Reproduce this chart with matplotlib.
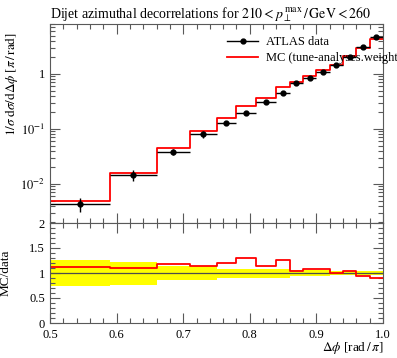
# Dijet azimuthal decorrelation plot, data vs MC with ratio panel

import numpy as np
import matplotlib
matplotlib.use('Agg')
import matplotlib.pyplot as plt
from matplotlib.lines import Line2D
from matplotlib.ticker import MultipleLocator, LogLocator, NullFormatter

plt.rcParams['font.family'] = ['Liberation Serif', 'DejaVu Serif']
plt.rcParams['mathtext.fontset'] = 'stix'
plt.rcParams['font.size'] = 9

# ------------------------------------------------------
# DATA
# ------------------------------------------------------

# bin edges in delta phi / pi
edges = [0.5, 0.59, 0.66, 0.71, 0.75, 0.78, 0.81, 0.84, 0.86, 0.88, 0.90, 0.92, 0.94, 0.96, 0.98, 1.0]
# ATLAS data values
data = [0.0043, 0.0144, 0.0387, 0.080, 0.130, 0.198, 0.314, 0.458, 0.676, 0.835, 1.10, 1.46, 2.06, 3.14, 4.77]
# relative data uncertainty
data_err = [0.267, 0.23, 0.14, 0.14, 0.09, 0.09, 0.09, 0.09, 0.065, 0.06, 0.06, 0.045, 0.045, 0.045, 0.045]
# MC prediction
mc = [0.00482, 0.0158, 0.0457, 0.0918, 0.155, 0.259, 0.361, 0.577, 0.708, 0.908, 1.188, 1.47, 2.13, 2.93, 4.33]

xticks = [0.5, 0.6, 0.7, 0.8, 0.9, 1.0]
xticklabels = ['0.5', '0.6', '0.7', '0.8', '0.9', '1.0']
rticks = [0, 0.5, 1, 1.5, 2]
rticklabels = ['0', '0.5', '1', '1.5', '2']

edges = np.array(edges)
data = np.array(data)
data_err = np.array(data_err)
mc = np.array(mc)
centers = 0.5 * (edges[:-1] + edges[1:])
halfw = 0.5 * (edges[1:] - edges[:-1])
ratio = mc / data

frame_col = '0.35'

# ------------------------------------------------------
# FIGURE
# ------------------------------------------------------

W, H = 397, 358
fig = plt.figure(figsize=(W / 100, H / 100), dpi=100)
ax1 = fig.add_axes([50 / W, (H - 223) / H, 333 / W, 199 / H])
ax2 = fig.add_axes([50 / W, (H - 323) / H, 333 / W, 100 / H])

def style(ax):
    for s in ax.spines.values():
        s.set_color(frame_col)
        s.set_linewidth(0.8)
    ax.tick_params(which='both', direction='in', top=True, right=True, colors=frame_col,
                   labelcolor='k', width=0.8, labelsize=9)
    ax.tick_params(which='major', length=7)
    ax.tick_params(which='minor', length=3.5)
    ax.set_xlim(0.5, 1.0)
    ax.xaxis.set_minor_locator(MultipleLocator(0.02))

# Main panel
style(ax1)
mc_step = np.append(mc, mc[-1])
ax1.step(edges, mc_step, where='post', color='red', lw=1.3)
ax1.errorbar(centers, data, xerr=halfw, yerr=data * data_err, fmt='o', color='k',
             markersize=3.5, elinewidth=1.0, capsize=0)
ax1.set_yscale('log')
ax1.yaxis.set_minor_locator(LogLocator(base=10, subs=np.arange(2, 10)))
ax1.yaxis.set_minor_formatter(NullFormatter())
ax1.set_yticks([0.01, 0.1, 1])
ax1.set_yticklabels(['$10^{-2}$', '$10^{-1}$', '1'])
ax1.set_xticks(xticks)
ax1.set_xticklabels([])
ax1.set_ylim(0.00195, 8.1)
ax1.set_ylabel(r'$1/\sigma\;\mathrm{d}\sigma/\mathrm{d}\Delta\phi\;[\pi\,/\,\mathrm{rad}]$', fontsize=9.5)
ax1.yaxis.set_label_coords(-38 / 333, 1 - 8 / 199)
ax1.yaxis.label.set_va('center')
ax1.yaxis.label.set_ha('right')
ax1.set_title(r'Dijet azimuthal decorrelations for $210 < p_\perp^{\,\mathrm{max}}\,/\,\mathrm{GeV} < 260$',
              loc='left', fontsize=10, pad=4)

handles = [Line2D([], [], color='k', marker='o', markersize=3.5, lw=1.0),
           Line2D([], [], color='red', lw=1.3)]
labels = ['ATLAS data', 'MC (tune-analyses.weight']
leg = ax1.legend(handles, labels, loc='upper left', bbox_to_anchor=((227 - 50) / 333, 1 - 12 / 199),
                 frameon=False, fontsize=9, handlelength=2.5, handletextpad=0.6,
                 borderpad=0, borderaxespad=0, labelspacing=0.35)

# Ratio panel
style(ax2)
band_lo = np.append(1 - data_err, 1 - data_err[-1])
band_hi = np.append(1 + data_err, 1 + data_err[-1])
ax2.fill_between(edges, band_lo, band_hi, step='post', color='#ffff00', lw=0)
ax2.axhline(1.0, color='0.3', lw=0.9)
ax2.step(edges, np.append(ratio, ratio[-1]), where='post', color='red', lw=1.3)
ax2.set_ylim(0, 2)
ax2.set_yticks(rticks)
ax2.set_yticklabels(rticklabels)
ax2.yaxis.set_minor_locator(MultipleLocator(0.1))
ax2.set_xticks(xticks)
ax2.set_xticklabels(xticklabels)
ax2.tick_params(axis='x', pad=4)
ax2.set_ylabel('MC/data', fontsize=9.5)
ax2.yaxis.set_label_coords(-38 / 333, 0.5)
ax2.set_xlabel(r'$\Delta\phi$ [rad$\,/\,\pi$]', fontsize=9.5)
ax2.xaxis.set_label_coords(1.0, -25 / 100)
ax2.xaxis.label.set_ha('right')
ax2.xaxis.label.set_va('center')

fig.savefig('out.png', dpi=100)
